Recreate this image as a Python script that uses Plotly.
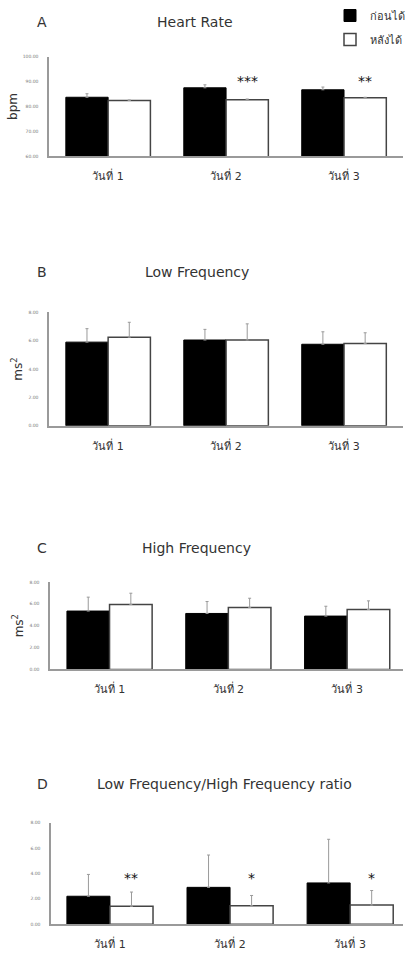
import plotly.graph_objects as go

W, H = 410, 954

categories = ["วันที่ 1", "วันที่ 2", "วันที่ 3"]
series_names = ["ก่อนได้", "หลังได้"]

hr_before = [83.7, 87.5, 86.7]
hr_before_err = [1.4, 1.2, 1.1]
hr_after = [82.4, 82.7, 83.5]
hr_after_err = [0.2, 0.3, 0.2]
hr_stars = ["", "***", "**"]

lf_before = [5.9, 6.05, 5.75]
lf_before_err = [0.95, 0.75, 0.88]
lf_after = [6.25, 6.05, 5.8]
lf_after_err = [1.05, 1.14, 0.76]
lf_stars = ["", "", ""]

hf_before = [5.34, 5.12, 4.88]
hf_before_err = [1.27, 1.09, 0.9]
hf_after = [5.94, 5.66, 5.48]
hf_after_err = [1.03, 0.85, 0.79]
hf_stars = ["*", "*", "***"]

ratio_before = [2.2, 2.9, 3.25]
ratio_before_err = [1.72, 2.55, 3.44]
ratio_after = [1.41, 1.45, 1.5]
ratio_after_err = [1.12, 0.81, 1.15]
ratio_stars = ["**", "*", "*"]

FONT = "DejaVu Sans"
TXT = "#333333"
AX = "#9a9a9a"


def px_x(px):
    return px / W


def px_y(py):
    return 1 - py / H


panels = [
    dict(letter="A", title="Heart Rate", tcx=198, ty=20, ytitle="bpm",
         b=hr_before, be=hr_before_err, a=hr_after, ae=hr_after_err, stars=hr_stars,
         xd=(50, 410), yd=(55, 155), yr=[60, 100], dt=10, xr=[-0.5, 2.5], star_y=90.3),
    dict(letter="B", title="Low Frequency", tcx=200, ty=271, ytitle="ms<sup>2</sup>",
         b=lf_before, be=lf_before_err, a=lf_after, ae=lf_after_err, stars=lf_stars,
         xd=(50, 410), yd=(312, 426), yr=[0, 8], dt=2, xr=[-0.5, 2.5], star_y=8),
    dict(letter="C", title="High Frequency", tcx=200, ty=549, ytitle="ms<sup>2</sup>",
         b=hf_before, be=hf_before_err, a=hf_after, ae=hf_after_err, stars=hf_stars,
         xd=(51, 410), yd=(583, 671), yr=[0, 8], dt=2, xr=[-0.5, 2.47], star_y=8.05),
    dict(letter="D", title="Low Frequency/High Frequency ratio", tcx=228, ty=786, ytitle=None,
         b=ratio_before, be=ratio_before_err, a=ratio_after, ae=ratio_after_err, stars=ratio_stars,
         xd=(52, 410), yd=(825, 927), yr=[0, 8], dt=2, xr=[-0.49, 2.44], star_y=3.65),
]

fig = go.Figure()
annotations = []
layout = {}

for i, p in enumerate(panels):
    n = "" if i == 0 else str(i + 1)
    xa, ya = "x" + n, "y" + n
    show = i == 0
    fig.add_trace(go.Bar(
        x=categories, y=p["b"], name=series_names[0], legendgroup="g0", showlegend=show,
        marker=dict(color="black", line=dict(color="black", width=1)),
        error_y=dict(type="data", symmetric=False, array=p["be"], arrayminus=[0] * 3,
                     color=AX, thickness=1, width=1.5),
        xaxis=xa, yaxis=ya))
    fig.add_trace(go.Bar(
        x=categories, y=p["a"], name=series_names[1], legendgroup="g1", showlegend=show,
        marker=dict(color="white", line=dict(color="#444444", width=1.5)),
        error_y=dict(type="data", symmetric=False, array=p["ae"], arrayminus=[0] * 3,
                     color=AX, thickness=1, width=1.5),
        xaxis=xa, yaxis=ya))

    yaxis = dict(
        domain=[px_y(p["yd"][1]), px_y(p["yd"][0])], anchor=xa, range=p["yr"],
        dtick=p["dt"], tickformat=".2f", showline=True, linecolor=AX, linewidth=1.5,
        showgrid=False, zeroline=False, ticks="",
        tickfont=dict(family=FONT, size=4.5, color="#777777"), ticklabelstandoff=8,
        fixedrange=True)
    if p["ytitle"]:
        yaxis["title"] = dict(text=p["ytitle"], font=dict(family=FONT, size=12, color=TXT),
                              standoff=3)
    layout["yaxis" + n] = yaxis
    layout["xaxis" + n] = dict(
        domain=[px_x(p["xd"][0]), min(1.0, px_x(p["xd"][1]))], anchor=ya, range=p["xr"],
        showline=True, linecolor=AX, linewidth=1.5, showgrid=False, ticks="",
        tickfont=dict(family=FONT, size=11, color=TXT), ticklabelstandoff=9,
        fixedrange=True)

    annotations.append(dict(text=p["letter"], xref="paper", yref="paper",
                            x=px_x(43), y=px_y(p["ty"]), xanchor="center", yanchor="middle",
                            showarrow=False, font=dict(family=FONT, size=14, color=TXT)))
    annotations.append(dict(text=p["title"], xref="paper", yref="paper",
                            x=px_x(p["tcx"]), y=px_y(p["ty"]), xanchor="center",
                            yanchor="middle", showarrow=False,
                            font=dict(family=FONT, size=14, color=TXT)))
    for c, s in zip(categories, p["stars"]):
        if s:
            annotations.append(dict(text=s, xref=xa, yref=ya, x=c, y=p["star_y"],
                                    xshift=21, xanchor="center", yanchor="middle",
                                    showarrow=False,
                                    font=dict(family=FONT, size=14, color="#111111")))

fig.update_layout(
    width=W, height=H, margin=dict(l=0, r=0, t=0, b=0),
    paper_bgcolor="white", plot_bgcolor="white",
    barmode="group", bargap=0.283, bargroupgap=0,
    showlegend=True,
    legend=dict(x=px_x(336), y=1 + 1 / H, xanchor="left", yanchor="top",
                font=dict(family=FONT, size=11, color=TXT), tracegroupgap=5,
                bgcolor="rgba(0,0,0,0)"),
    annotations=annotations,
    **layout,
)

post = """
document.documentElement.style.overflow='hidden';
document.body.style.margin='0';
"""

fig.write_html("out.html", config={"displayModeBar": False}, post_script=post)
